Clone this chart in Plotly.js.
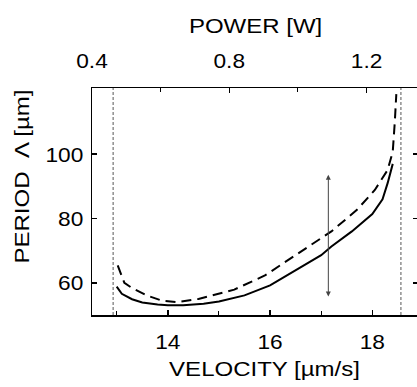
<!DOCTYPE html>
<html><head><meta charset="utf-8">
<script src="https://cdn.plot.ly/plotly-3.0.1.min.js"></script>
<style>html,body{margin:0;padding:0;overflow:hidden;background:#fff}#chart{width:430px;height:387px}</style>
</head><body><div id="chart"></div>
<script>
// ---- data ----
const velocitySolid = [13.0, 13.1, 13.3, 13.5, 13.8, 14.0, 14.3, 14.7, 15.0, 15.5, 16.0, 16.5, 17.0, 17.2, 17.6, 18.0, 18.2, 18.3, 18.4];
const periodSolid   = [58.8, 56.6, 54.9, 53.9, 53.3, 53.0, 53.0, 53.5, 54.2, 56.1, 59.2, 63.8, 68.6, 71.3, 76.0, 81.4, 86.0, 91.0, 97.0];
const velocityDashed = [13.02, 13.15, 13.3, 13.6, 13.9, 14.2, 14.6, 15.3, 15.9, 16.6, 17.2, 17.7, 18.05, 18.3, 18.4, 18.44, 18.47];
const periodDashed   = [65.4, 60.0, 58.4, 56.0, 54.4, 54.0, 55.0, 57.9, 62.3, 69.8, 76.0, 82.7, 88.9, 95.1, 100.8, 110.0, 118.7];
const velocityTicks = [14, 16, 18];
const velocityMinorTicks = [13, 15, 17];
const powerTicks = [0.4, 0.8, 1.2];
const powerTickLabels = ['0.4', '0.8', '1.2'];
const powerMinorTicks = [0.6, 1.0];
const periodTicks = [60, 80, 100];
const cutoffVelocities = [12.93, 18.56];
const arrowVelocity = 17.14;
const arrowPeriods = [55.3, 93.6];
const velocityRange = [12.517, 18.894];
const powerRange = [0.4, 1.35];
const periodRange = [50, 120.6];

const FONT = {family: '"Liberation Sans", Arial, Helvetica, sans-serif', size: 20, color: '#000'};
const TICKFONT = {family: '"Liberation Sans", Arial, Helvetica, sans-serif', size: 21, color: '#000'};

const data = [
  {x: velocitySolid, y: periodSolid, mode: 'lines', line: {color: '#000', width: 2}, showlegend: false, hoverinfo: 'skip'},
  {x: velocityDashed, y: periodDashed, mode: 'lines', line: {color: '#000', width: 2, dash: '10px,6px'}, showlegend: false, hoverinfo: 'skip'},
  {x: powerRange, y: [null, null], xaxis: 'x2', yaxis: 'y', mode: 'lines', showlegend: false, hoverinfo: 'skip'}
];

const axisCommon = {showline: true, linecolor: '#000', linewidth: 1.5, ticks: 'inside', ticklen: 5, tickwidth: 1.5, tickcolor: '#000',
  showgrid: false, zeroline: false, tickfont: TICKFONT, fixedrange: true};

const layout = {
  width: 430, height: 387,
  margin: {l: 92, r: 12, t: 88, b: 72},
  paper_bgcolor: '#fff', plot_bgcolor: '#fff',
  font: FONT,
  xaxis: Object.assign({}, axisCommon, {range: velocityRange, tickmode: 'array', tickvals: velocityTicks, ticklabelstandoff: 7,
    minor: {tickmode: 'array', tickvals: velocityMinorTicks, ticks: 'inside', ticklen: 4, tickwidth: 1, tickcolor: '#000', showgrid: false}}),
  xaxis2: Object.assign({}, axisCommon, {range: powerRange, overlaying: 'x', side: 'top', anchor: 'y', tickmode: 'array',
    tickvals: powerTicks, ticktext: powerTickLabels, ticklabelstandoff: 10,
    minor: {tickmode: 'array', tickvals: powerMinorTicks, ticks: 'inside', ticklen: 4, tickwidth: 1, tickcolor: '#000', showgrid: false}}),
  yaxis: Object.assign({}, axisCommon, {range: periodRange, tickmode: 'array', tickvals: periodTicks, mirror: 'ticks', ticklabelstandoff: 3}),
  shapes: cutoffVelocities.map(v => ({type: 'line', xref: 'x', yref: 'paper', x0: v, x1: v, y0: 0, y1: 1,
    line: {color: '#555', width: 1, dash: '3px,2px'}})),
  annotations: [
    {text: '', x: arrowVelocity, y: arrowPeriods[1], ax: arrowVelocity, ay: arrowPeriods[0], xref: 'x', yref: 'y', axref: 'x', ayref: 'y',
      showarrow: true, arrowhead: 2, startarrowhead: 2, arrowside: 'end+start', arrowsize: 1, startarrowsize: 1, arrowwidth: 1, arrowcolor: '#444'},
    {text: 'POWER [W]', xref: 'paper', yref: 'paper', x: 0.503, y: 1.273, xanchor: 'center', yanchor: 'middle', showarrow: false, font: FONT},
    {text: 'VELOCITY [µm/s]', xref: 'paper', yref: 'paper', x: 0.528, y: -0.238, xanchor: 'center', yanchor: 'middle', showarrow: false, font: FONT},
    {text: 'PERIOD  Λ [µm]', xref: 'paper', yref: 'paper', x: -0.2147, y: 0.608, xanchor: 'center', yanchor: 'middle', textangle: -90, showarrow: false, font: FONT}
  ]
};

function stretch(sel, k) {
  document.querySelectorAll(sel).forEach(t => {
    if (t.hasAttribute('textLength')) return;
    const w = t.getComputedTextLength();
    if (w > 0) { t.setAttribute('textLength', (w * k).toFixed(2)); t.setAttribute('lengthAdjust', 'spacingAndGlyphs'); }
  });
}

Plotly.newPlot('chart', data, layout, {staticPlot: true, displayModeBar: false}).then(() => {
  stretch('.xtick text, .x2tick text, .ytick text', 1.08);
  stretch('text.annotation-text', 1.2);
});
</script>
</body></html>
